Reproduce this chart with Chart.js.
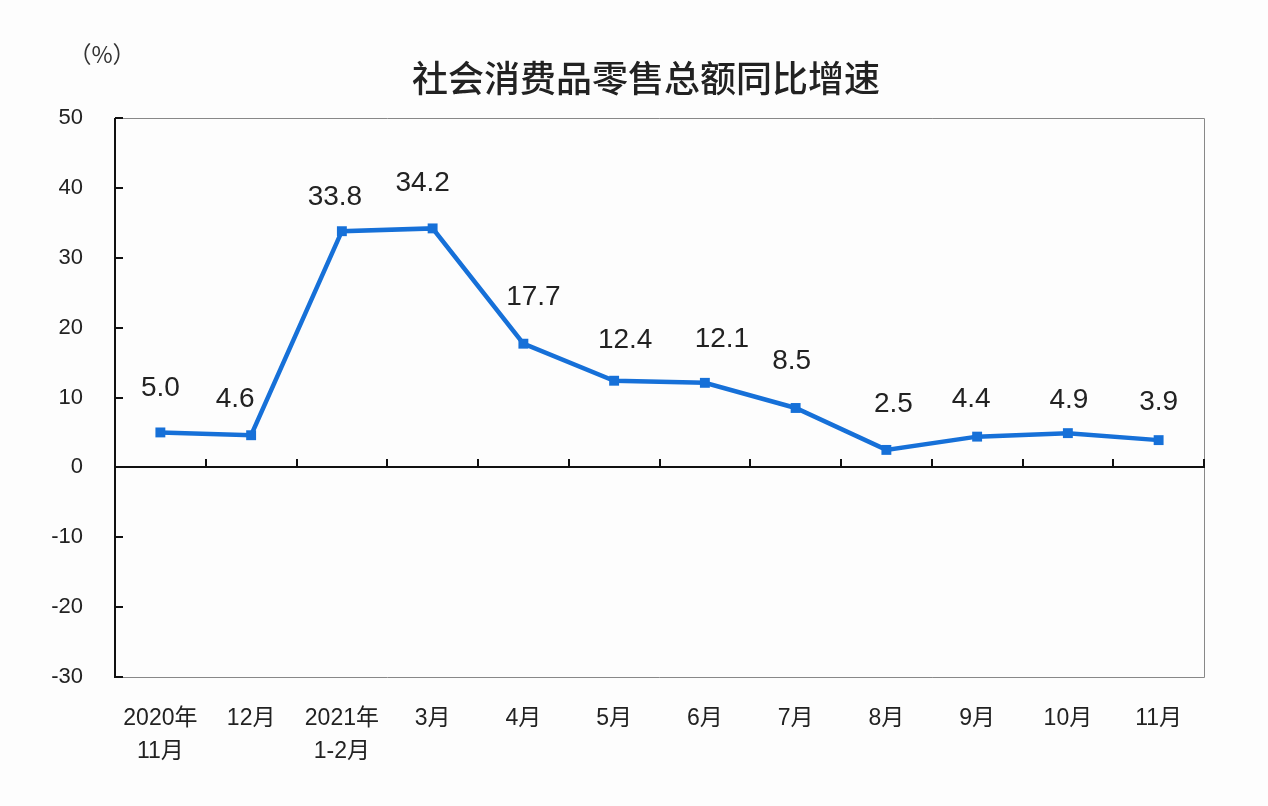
<!DOCTYPE html>
<html><head><meta charset="utf-8">
<script src="https://cdn.jsdelivr.net/npm/chart.js@4"></script>
<style>html,body{margin:0;padding:0;background:#fdfdfd;}#c{display:block;}</style>
</head><body>
<canvas id="c" width="1268" height="806"></canvas>
<script>
const categories = [["2020年","11月"],"12月",["2021年","1-2月"],"3月","4月","5月","6月","7月","8月","9月","10月","11月"];
const growthValues = [5.0, 4.6, 33.8, 34.2, 17.7, 12.4, 12.1, 8.5, 2.5, 4.4, 4.9, 3.9];
const yTickValues = [50, 40, 30, 20, 10, 0, -10, -20, -30];
const titleText = "社会消费品零售总额同比增速";
const unitText = "（%）";
// label placement offsets (style, px)
const labelDX = [0,-16,-7,-10,10,11,17,-4,7,-6,1,0];
const labelDY = [-44,-36,-34,-45,-46,-40,-44,-47,-46,-37,-33,-38];

const LINE = '#1670d8';
const FONT = '"Liberation Sans", Arial, "Noto Sans CJK SC", sans-serif';

const deco = {
  id: 'deco',
  afterDraw(chart) {
    const {ctx, chartArea: a, scales: {x, y}} = chart;
    ctx.save();
    // frame
    ctx.strokeStyle = '#888'; ctx.lineWidth = 1;
    ctx.beginPath();
    ctx.moveTo(a.left, a.top + 0.5); ctx.lineTo(a.right + 0.5, a.top + 0.5);
    ctx.lineTo(a.right + 0.5, a.bottom + 0.5); ctx.lineTo(a.left, a.bottom + 0.5);
    ctx.stroke();
    ctx.strokeStyle = '#111'; ctx.lineWidth = 2;
    ctx.beginPath(); ctx.moveTo(a.left, a.top); ctx.lineTo(a.left, a.bottom + 1); ctx.stroke();
    // y ticks
    yTickValues.forEach(v => {
      const py = Math.round(y.getPixelForValue(v));
      ctx.beginPath(); ctx.moveTo(a.left, py); ctx.lineTo(a.left + 8, py); ctx.stroke();
    });
    // zero line
    const zy = Math.round(y.getPixelForValue(0));
    ctx.beginPath(); ctx.moveTo(a.left, zy); ctx.lineTo(a.right + 1, zy); ctx.stroke();
    // x ticks between categories, upward
    const step = x.getPixelForValue(1) - x.getPixelForValue(0);
    for (let i = 0; i < categories.length; i++) {
      const px = Math.round(x.getPixelForValue(i) + step / 2);
      ctx.beginPath(); ctx.moveTo(px, zy); ctx.lineTo(px, zy - 8); ctx.stroke();
    }
    // title and unit
    ctx.fillStyle = '#222';
    ctx.textAlign = 'center'; ctx.textBaseline = 'middle';
    ctx.font = '500 36px "Noto Sans CJK SC", sans-serif';
    ctx.fillText(titleText, 646, 78);
    ctx.font = '23px "Noto Sans CJK SC", sans-serif';
    ctx.fillStyle = '#333';
    ctx.fillText(unitText, 102, 54);
    // data labels
    const meta = chart.getDatasetMeta(0);
    ctx.font = '28px ' + FONT;
    ctx.fillStyle = '#222';
    meta.data.forEach((pt, i) => {
      ctx.fillText(growthValues[i].toFixed(1), pt.x + labelDX[i], pt.y + labelDY[i]);
    });
    ctx.restore();
  }
};

new Chart(document.getElementById('c'), {
  type: 'line',
  data: {
    labels: categories,
    datasets: [{
      data: growthValues,
      borderColor: LINE,
      backgroundColor: LINE,
      borderWidth: 4.5,
      pointStyle: 'rect',
      pointRadius: 7,
      pointBorderWidth: 0,
      tension: 0
    }]
  },
  options: {
    responsive: false,
    animation: false,
    devicePixelRatio: 1,
    layout: { padding: { top: 118, right: 64, left: 0, bottom: 0 } },
    plugins: { legend: { display: false }, tooltip: { enabled: false } },
    scales: {
      x: {
        type: 'category',
        offset: true,
        grid: { display: false, drawTicks: false },
        border: { display: false },
        ticks: { color: '#222', font: { family: FONT, size: 23, lineHeight: 1.4 }, padding: 26, maxRotation: 0, autoSkip: false },
        afterFit(s) { s.height = 129; }
      },
      y: {
        min: -30, max: 50,
        grid: { display: false, drawTicks: false },
        border: { display: false },
        ticks: { stepSize: 10, color: '#222', font: { family: FONT, size: 22 }, padding: 32 },
        afterFit(s) { s.width = 115; }
      }
    }
  },
  plugins: [deco]
});
</script>
</body></html>
